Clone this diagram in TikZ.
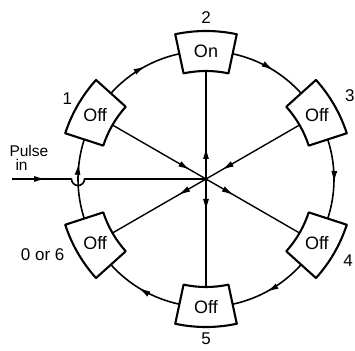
\documentclass[tikz,border=0pt]{standalone}
\usepackage{fontspec}
\setmainfont{Liberation Sans}
\usetikzlibrary{arrows.meta,positioning,calc,decorations.markings}

\begin{document}
\begin{tikzpicture}[
    x=1pt,y=1pt,
    >=Latex,
    every node/.style={font=\fontsize{17}{17}\selectfont},
    ring/.style={line width=1.6pt},
    spoke/.style={line width=1.4pt},
    stagebox/.style={line width=2.1pt,fill=white,line join=round},
    stagetext/.style={font=\fontsize{18}{18}\selectfont},
    midarrow/.style={postaction={decorate},
      decoration={markings,mark=at position #1 with {\arrow{Latex[length=12pt,width=6pt]}}}}
  ]
  \useasboundingbox (0,0) rectangle (355,350);
  \coordinate (o) at (206,171);
  \coordinate (hub) at (o);
  %% Stage anchors on the ring
  \foreach \n/\a in {1/150,2/90,3/30,4/-30,5/-90,0/210}{
    \coordinate (s\n-in) at ($(o)+(\a:108)$);
    \coordinate (s\n-cw) at ($(o)+(\a-12:128)$);
  }
  %% Ring arcs, clockwise
  \foreach \n/\pa/\qa/\pos in {1/138/102/0.55, 2/78/42/0.55, 3/18/-18/0.55,
      4/-42/-78/0.55, 5/-102/-138/0.55, 0/198/162/0.7}{
    \draw[ring,midarrow=\pos] (s\n-cw) arc[start angle=\pa,end angle=\qa,radius=128];
  }
  %% Spokes through the hub
  \foreach \n in {2,4,5,0}
    \draw[spoke,midarrow=32pt] (hub) -- (s\n-in);
  \foreach \n in {1,3}
    \draw[spoke,midarrow=-18pt] (s\n-in) -- (hub);
  %% Pulse input with hop over the ring
  \coordinate (pin) at (12,171);
  \draw[spoke,line width=1.6pt,midarrow=34pt] (pin) -- ++(59.5,0)
    arc[start angle=180,end angle=360,radius=6.5] -- (hub);
  \node[anchor=west,align=left,font=\fontsize{15.5}{14}\selectfont] (pulse) at (6,192)
    {Pulse\\\hspace*{6pt}in};
  %% Stages
  \foreach \n/\a/\txt/\d in {1/150/Off/160,2/90/On/161,3/30/Off/166,
      4/-30/Off/164,5/-90/Off/160,0/210/Off/0}{
    \draw[stagebox] ($(o)+(\a-12:148)$) arc[start angle=\a-12,end angle=\a+12,radius=148]
      -- ($(o)+(\a+12:108)$) arc[start angle=\a+12,end angle=\a-12,radius=108] -- cycle;
    \node[stagetext] (s\n) at ($(o)+(\a:128)$) {\txt};
    \ifnum\n>0
      \node (l\n) at ($(o)+(\a:\d)$) {\n};
    \fi
  }
  \node[anchor=east] (l0) at (68,95) {0 or 6};
\end{tikzpicture}
\end{document}
